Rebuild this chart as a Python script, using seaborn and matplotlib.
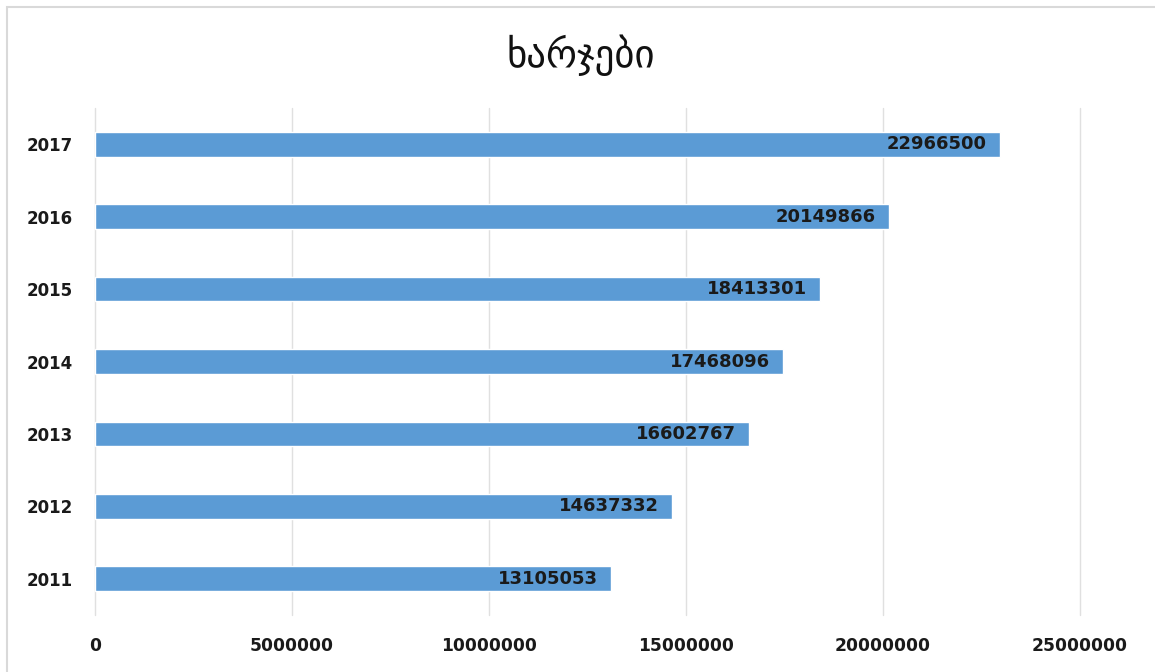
import matplotlib
matplotlib.use("Agg")
import matplotlib.pyplot as plt
import seaborn as sns
import pandas as pd
from matplotlib.patches import Rectangle

years = ["2017", "2016", "2015", "2014", "2013", "2012", "2011"]
values = [22966500, 20149866, 18413301, 17468096, 16602767, 14637332, 13105053]
xticks = [0, 5000000, 10000000, 15000000, 20000000, 25000000]
title = "ხარჯები"

sns.set_theme(style="white")
plt.rcParams['font.family'] = ['DejaVu Sans']

df = pd.DataFrame({"year": years, "value": values})

fig = plt.figure(figsize=(11.55, 6.72), dpi=100)
ax = fig.add_axes([95/1155, 1 - 615/672, (1080 - 95)/1155, (615 - 108)/672])

sns.barplot(data=df, x="value", y="year", order=years, orient="h",
            color="#5B9BD5", saturation=1, width=0.34, ax=ax)

ax.set_xlim(0, 25000000)
ax.set_ylim(6.5, -0.5)
ax.set_xticks(xticks)
ax.set_xticklabels([str(v) for v in xticks], fontsize=12.3, fontweight="bold", color="#1a1a1a")
ax.tick_params(axis="x", length=0, pad=16)
ax.tick_params(axis="y", length=0, pad=16)
for lbl in ax.get_yticklabels():
    lbl.set_fontsize(12)
    lbl.set_fontweight("bold")
    lbl.set_color("#1a1a1a")
ax.set_xlabel("")
ax.set_ylabel("")
ax.grid(axis="x", color="#e0e0e0", linewidth=1)
ax.set_axisbelow(True)
for gl in ax.get_xgridlines():
    gl.set_clip_on(False)
for s in ax.spines.values():
    s.set_visible(False)

for i, (yr, v) in enumerate(zip(years, values)):
    ax.annotate(str(v), xy=(v, i), xytext=(-9.5, 0), textcoords="offset points",
                ha="right", va="center", fontsize=13, fontweight="bold", color="#1a1a1a")

fig.text(581/1155, 1 - 55/672, title, ha="center", va="center", fontsize=28,
         family=["DejaVu Sans"], color="#111111")

fig.patches.append(Rectangle((7/1155, -0.1), 1.2, 1 - 7/672 + 0.1, transform=fig.transFigure,
                             fill=False, edgecolor="#d9d9d9", linewidth=1.5))

fig.savefig("out.png", dpi=100, facecolor="white")
